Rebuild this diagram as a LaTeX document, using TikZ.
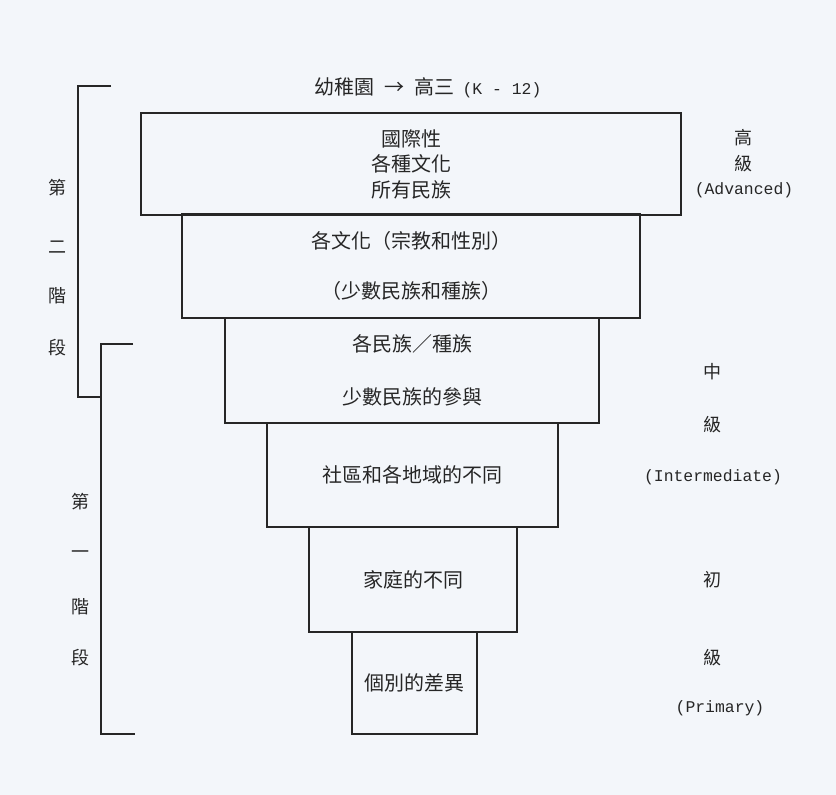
\documentclass[tikz,border=0pt]{standalone}
\usepackage{fontspec}
\newfontfamily\cjk{Noto Sans CJK TC}
\newfontfamily\monofnt{Liberation Mono}
\definecolor{bg}{RGB}{243,246,250}
\definecolor{ink}{RGB}{38,38,38}
\begin{document}
\begin{tikzpicture}[x=1pt,y=-1pt,
  tier/.style={draw=ink, line width=1.6pt, inner sep=0pt, align=center, text=ink,
    font={\cjk\fontsize{20pt}{25.5pt}\selectfont}},
  cjklab/.style={inner sep=0pt, text=ink, font={\cjk\fontsize{18pt}{20pt}\selectfont}},
  monolab/.style={inner sep=0pt, text=ink, font={\monofnt\fontsize{16.4pt}{20pt}\selectfont}},
  brk/.style={draw=ink, line width=1.6pt}]
\fill[bg] (0,0) rectangle (836,795);
\useasboundingbox (0,0) rectangle (836,795);

% title
\node[inner sep=0pt, text=ink, font={\cjk\fontsize{20pt}{20pt}\selectfont}] (title) at (428,88)
  {幼稚園\hspace{10pt}→\hspace{10pt}高三\hspace{8pt}{\monofnt\fontsize{16.4pt}{20pt}\selectfont(K - 12)}};

% tiers
\node[tier, minimum width=540pt, minimum height=102pt] (t1) at (411,164) {國際性\\各種文化\\所有民族};
\node[tier, minimum width=458pt, minimum height=104pt, font={\cjk\fontsize{20pt}{50pt}\selectfont}] (t2) at (411,266) {各文化（宗教和性別）\\（少數民族和種族）};
\node[tier, minimum width=374pt, minimum height=105pt, font={\cjk\fontsize{20pt}{53pt}\selectfont}] (t3) at (412,370.5) {各民族／種族\\少數民族的參與};
\node[tier, minimum width=291pt, minimum height=104pt] (t4) at (412.5,475) {社區和各地域的不同};
\node[tier, minimum width=208pt, minimum height=105pt] (t5) at (413,579.5) {家庭的不同};
\node[tier, minimum width=125pt, minimum height=102pt] (t6) at (414.5,683) {個別的差異};

% right labels
\node[cjklab] (adv1) at (743,138) {高};
\node[cjklab] (adv2) at (743,164) {級};
\node[monolab] (adv3) at (744,190) {(Advanced)};
\node[cjklab] (int1) at (712,372) {中};
\node[cjklab] (int2) at (712,425) {級};
\node[monolab] (int3) at (713,477) {(Intermediate)};
\node[cjklab] (pri1) at (712,580) {初};
\node[cjklab] (pri2) at (712,658) {級};
\node[monolab] (pri3) at (720,708) {(Primary)};

% left labels: stage two
\node[cjklab] (s2a) at (57,188) {第};
\node[cjklab] (s2b) at (57,247) {二};
\node[cjklab] (s2c) at (57,296) {階};
\node[cjklab] (s2d) at (57,348) {段};
% stage one
\node[cjklab] (s1a) at (80,502) {第};
\node[cjklab] (s1b) at (80,555) {一};
\node[cjklab] (s1c) at (80,607) {階};
\node[cjklab] (s1d) at (80,658) {段};

% brackets
\coordinate (b2top) at (111,86);
\coordinate (b2bot) at (101,397);
\coordinate (b1top) at (133,344);
\coordinate (b1bot) at (135,734);
\draw[brk] (b2top) -- (78,86) -- (78,397) -- (b2bot);
\draw[brk] (b1top) -- (101,344) -- (101,734) -- (b1bot);
\end{tikzpicture}
\end{document}
